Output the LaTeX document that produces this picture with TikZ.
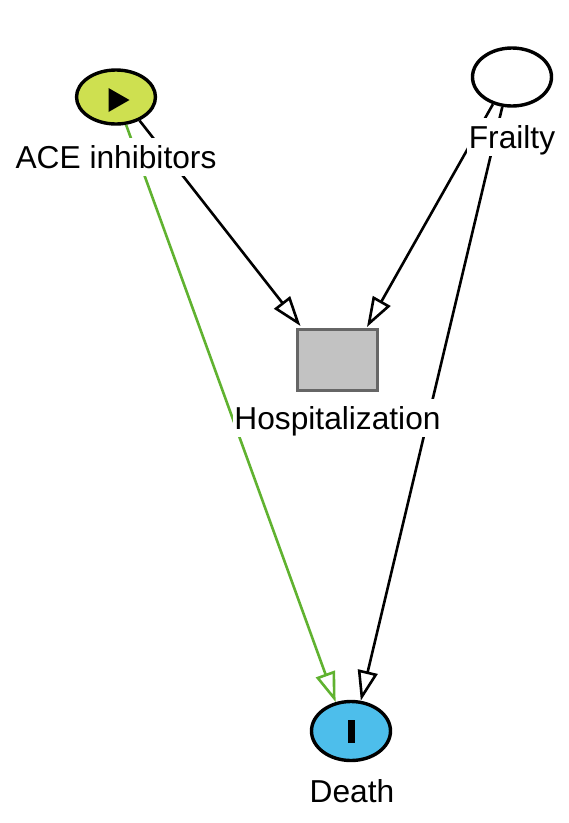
\documentclass[tikz,border=0pt]{standalone}
\usepackage{fontspec}
\setmainfont{Liberation Sans}
\usetikzlibrary{arrows.meta,shapes.geometric}
\definecolor{acefill}{RGB}{206,224,80}
\definecolor{deathfill}{RGB}{77,190,235}
\definecolor{hospfill}{RGB}{194,194,194}
\definecolor{hospline}{RGB}{102,102,102}
\definecolor{pathgreen}{RGB}{96,178,48}
\newcommand\lblfont{\fontsize{31.7}{38}\selectfont}
\tikzset{
  varnode/.style={ellipse, draw=black, line width=3.4pt, minimum width=79pt, inner sep=0pt},
  adjnode/.style={rectangle, draw=hospline, fill=hospfill, line width=3.6pt, minimum width=80pt, minimum height=61pt, inner sep=0pt},
  lbl/.style={fill=white, inner sep=1.5pt, text height=28.7pt, text depth=6.7pt, font=\lblfont, anchor=base},
  edge/.style={line width=2.6pt, -{Triangle[length=30pt,width=20pt,fill=white]}},
  causal/.style={edge, draw=pathgreen}
}
\begin{document}
\begin{tikzpicture}[x=1pt,y=-1pt]
\useasboundingbox (0,0) rectangle (569,823);
% variable shapes
\node[varnode, fill=acefill, minimum height=54pt] (ace) at (116,97) {};
\node[varnode, fill=white, minimum height=58pt] (frailty) at (512,77) {};
\node[adjnode] (hosp) at (337.5,360) {};
\node[varnode, fill=deathfill, minimum height=59pt] (death) at (351,731) {};
% icons
\fill[black] (108.5,88) -- (108.5,112) -- (129.5,100) -- cycle;
\fill[black] (348,720) rectangle (355,743);
% arrow end points on the adjusted node
\coordinate (hA) at (300.5,326);
\coordinate (hF) at (367,327);
% edges
\draw[edge] (ace.-45) -- (hA);
\draw[edge] (frailty.-125) -- (hF);
\draw[edge] (frailty.-108) -- (death.72);
\draw[causal] (ace) -- (death.118);
% labels
\node[lbl] (aceL) at (116,168) {ACE inhibitors};
\node[lbl] (frailtyL) at (512,148) {Frailty};
\node[lbl] (hospL) at (337.5,429) {Hospitalization};
\node[lbl] (deathL) at (352,802) {Death};
\end{tikzpicture}
\end{document}
